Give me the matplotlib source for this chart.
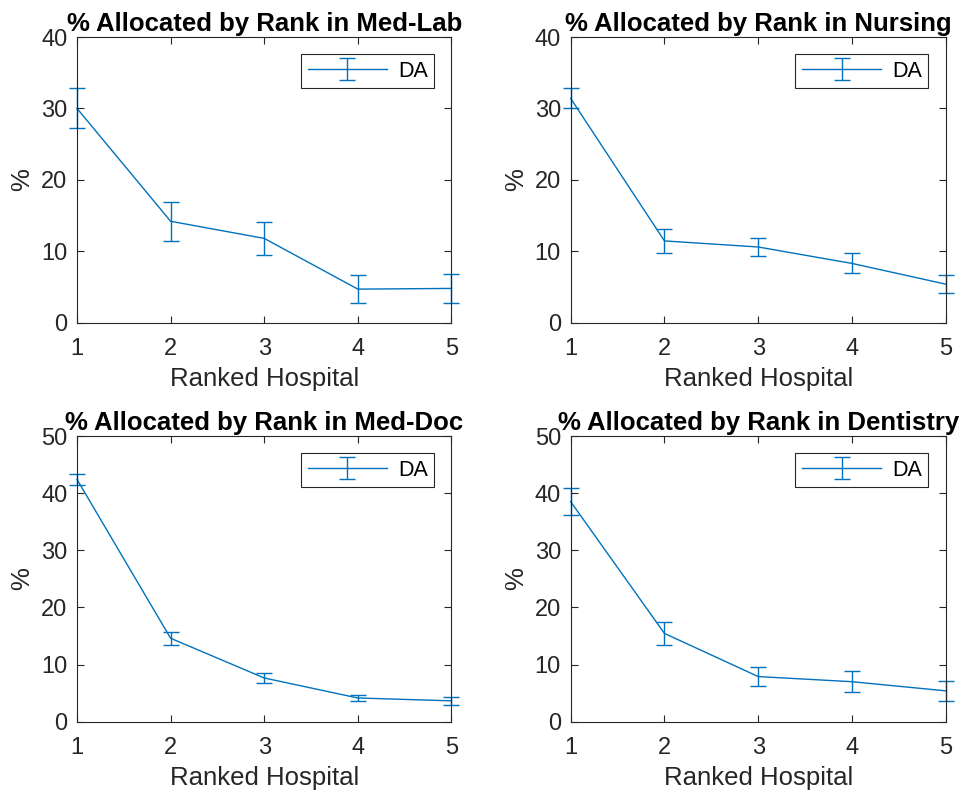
import matplotlib

matplotlib.use("Agg")
import matplotlib.pyplot as plt

plt.rcParams["font.family"] = ["Liberation Sans", "DejaVu Sans"]

BLUE = "#0072BD"
DARK = "#262626"

ranks = [1, 2, 3, 4, 5]

# means and error-bar half-widths
medlab_mean = [30.0, 14.2, 11.8, 4.7, 4.8]
medlab_err = [2.8, 2.75, 2.3, 2.0, 2.05]

nursing_mean = [31.4, 11.45, 10.6, 8.3, 5.4]
nursing_err = [1.4, 1.7, 1.25, 1.4, 1.25]

meddoc_mean = [42.4, 14.6, 7.65, 4.15, 3.65]
meddoc_err = [0.9, 1.1, 0.93, 0.55, 0.67]

dentistry_mean = [38.5, 15.45, 7.9, 7.0, 5.4]
dentistry_err = [2.4, 1.95, 1.6, 1.8, 1.78]

panels = [
    ("Med-Lab", 40, medlab_mean, medlab_err),
    ("Nursing", 40, nursing_mean, nursing_err),
    ("Med-Doc", 50, meddoc_mean, meddoc_err),
    ("Dentistry", 50, dentistry_mean, dentistry_err),
]

W, H = 966, 794
fig = plt.figure(figsize=(W / 100, H / 100), dpi=100, facecolor="white")

# axes boxes in pixels: (left, top, right, bottom)
boxes = [
    (77, 37, 451.5, 322.7),
    (570.7, 37, 945.7, 322.7),
    (77, 436, 451.5, 721.7),
    (570.7, 436, 945.7, 721.7),
]

for (name, ytop, mean, err), (l, t, r, b) in zip(panels, boxes):
    ax = fig.add_axes([l / W, 1 - b / H, (r - l) / W, (b - t) / H])
    ax.errorbar(ranks, mean, yerr=err, color=BLUE, lw=1.0, elinewidth=1.0,
                capsize=6, capthick=1.0, label="DA", clip_on=False)
    ax.set_xlim(1, 5)
    ax.set_ylim(0, ytop)
    ax.set_xticks(ranks)
    ax.set_yticks(range(0, ytop + 1, 10))
    ax.tick_params(direction="in", length=5, width=0.8, colors=DARK,
                   labelsize=17, top=True, right=True)
    ax.tick_params(axis="x", pad=11)
    ax.tick_params(axis="y", pad=7)
    for s in ax.spines.values():
        s.set_color(DARK)
        s.set_linewidth(0.8)
    ax.set_xlabel("Ranked Hospital", fontsize=18.5, color=DARK, labelpad=5)
    ax.set_ylabel("%", fontsize=18.5, color=DARK, labelpad=5)
    ax.set_title(f"% Allocated by Rank in {name}", fontsize=18.5,
                 fontweight="bold", color="black", pad=4)
    leg = ax.legend(loc="upper right", fontsize=15.5, fancybox=False,
                    framealpha=1, edgecolor=DARK, handlelength=3.7,
                    borderaxespad=0.8, borderpad=0.3, handletextpad=0.5)
    leg.get_frame().set_linewidth(0.8)

fig.savefig("out.png", dpi=100)
